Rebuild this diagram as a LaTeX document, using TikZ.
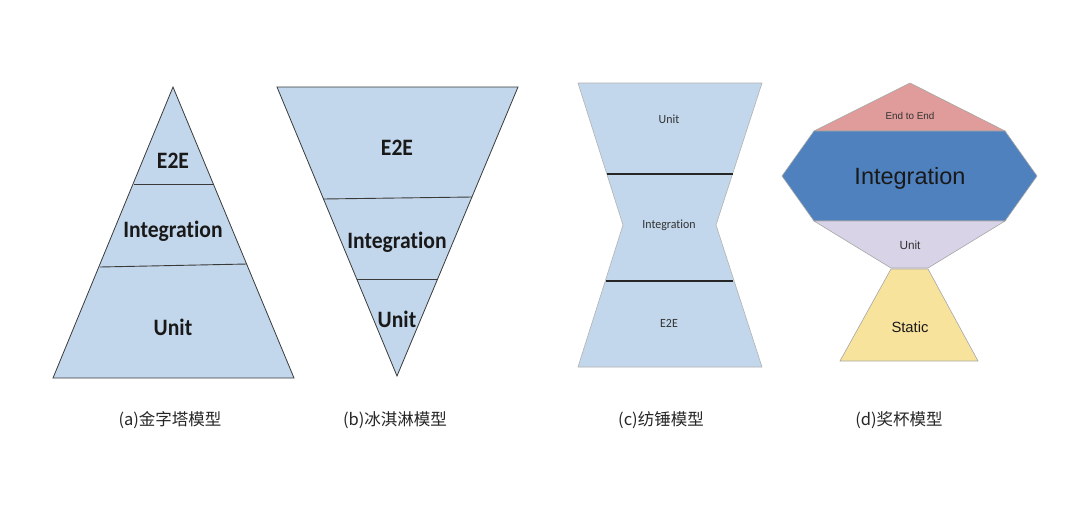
\documentclass[tikz,border=0pt]{standalone}
\usepackage{fontspec}
\setmainfont{Liberation Sans}
\newfontfamily\carlitofont[Ligatures=NoCommon]{Carlito}
\newfontfamily\cjkfont{Noto Sans CJK SC}
\newfontfamily\arialfont{Liberation Sans}
\definecolor{paleblue}{HTML}{C3D7EC}
\definecolor{edgegray}{HTML}{3A3A3A}
\definecolor{e2ered}{HTML}{E09C9A}
\definecolor{intblue}{HTML}{4F81BF}
\definecolor{unitlilac}{HTML}{D9D3E8}
\definecolor{staticyellow}{HTML}{F8E39C}
\tikzset{
  layer/.style={fill=paleblue, draw=edgegray, line width=0.8pt, line join=miter},
  divider/.style={draw=edgegray, line width=0.9pt},
  thickdiv/.style={draw=black!85, line width=1.8pt},
  boldlbl/.style={font=\carlitofont\bfseries\fontsize{23.5}{25}\selectfont, text=black!90, xscale=0.92},
  slimlbl/.style={font=\carlitofont\fontsize{12.5}{14}\selectfont, text=black!80, xscale=0.95},
  cupfill/.style={draw=gray!70, line width=0.6pt},
  caption/.style={font=\cjkfont\fontsize{16.5}{18}\selectfont, text=black!85}
}
\begin{document}
\begin{tikzpicture}[x=1pt,y=-1pt]
\useasboundingbox[fill=white] (0,0) rectangle (1080,512);

% (a) pyramid
\draw[layer] (173,87) -- (294,378) -- (53,378) -- cycle;
\draw[divider] (134,184) -- (213,184);
\draw[divider] (100,267) -- (247,264);
\node[boldlbl] (a1) at (173,161) {E2E};
\node[boldlbl] (a2) at (173,231) {Integration};
\node[boldlbl] (a3) at (173,327) {Unit};

% (b) ice-cream cone
\draw[layer] (277,87) -- (518,87) -- (397,376) -- cycle;
\draw[divider] (323,199) -- (472,197);
\draw[divider] (357,279) -- (438,279);
\node[boldlbl] (b1) at (397,148) {E2E};
\node[boldlbl] (b2) at (397,242) {Integration};
\node[boldlbl] (b3) at (397,319) {Unit};

% (c) spindle
\draw[fill=paleblue, draw=gray!60, line width=0.6pt]
  (578,83) -- (762,83) -- (716,225) -- (762,367) -- (578,367) -- (623,225) -- cycle;
\draw[thickdiv] (607,174) -- (733,174);
\draw[thickdiv] (606,281) -- (733,281);
\node[slimlbl] (c1) at (669,119) {Unit};
\node[slimlbl] (c2) at (669,225) {Integration};
\node[slimlbl] (c3) at (669,323) {E2E};

% (d) trophy
\draw[cupfill, fill=e2ered] (910,83) -- (1005,131) -- (814,131) -- cycle;
\draw[cupfill, fill=intblue] (814,131) -- (1005,131) -- (1037,176) -- (1005,221) -- (814,221) -- (782,176) -- cycle;
\draw[cupfill, fill=unitlilac] (814,221) -- (1005,221) -- (928,268) -- (891,268) -- cycle;
\draw[cupfill, fill=staticyellow] (891,269) -- (928,269) -- (978,361) -- (840,361) -- cycle;
\node[font=\arialfont\fontsize{9.9}{11}\selectfont, text=black!80] (d1) at (910,116) {End to End};
\node[font=\arialfont\fontsize{23.5}{26}\selectfont, text=black!90] (d2) at (910,178) {Integration};
\node[font=\arialfont\fontsize{11.8}{13}\selectfont, text=black!80] (d3) at (910,245) {Unit};
\node[font=\arialfont\fontsize{14.8}{16}\selectfont, text=black!90] (d4) at (910,327) {Static};

% captions
\node[caption] (capa) at (170,420) {(a)金字塔模型};
\node[caption] (capb) at (395,420) {(b)冰淇淋模型};
\node[caption] (capc) at (661,420) {(c)纺锤模型};
\node[caption] (capd) at (899,420) {(d)奖杯模型};
\end{tikzpicture}
\end{document}
